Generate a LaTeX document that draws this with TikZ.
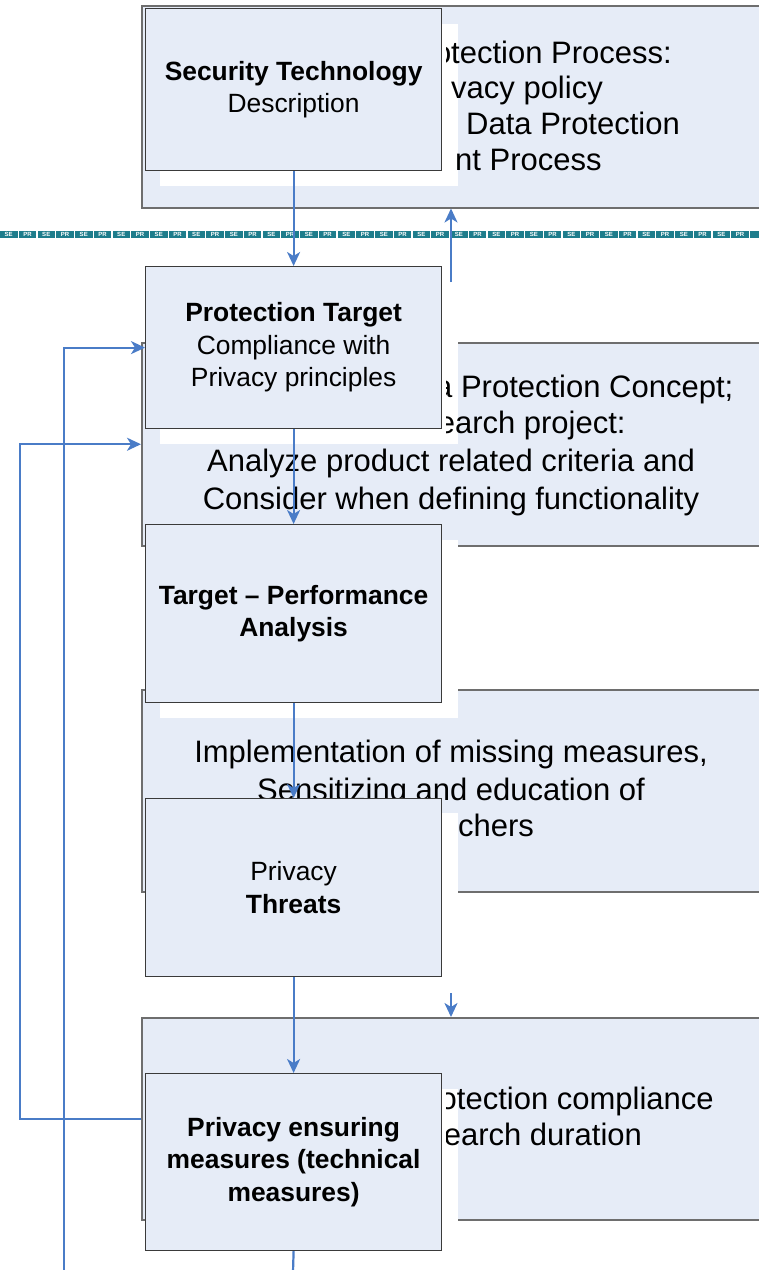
\documentclass[tikz,border=0pt]{standalone}
\usepackage{fontspec}
\setmainfont{Liberation Sans}
\newfontfamily\bigf{Liberation Sans}
\newfontfamily\smallf{Liberation Sans}
\usetikzlibrary{arrows.meta}
\definecolor{boxfill}{HTML}{E6ECF7}
\definecolor{bigline}{HTML}{6E6E6E}
\definecolor{smline}{HTML}{3A3A3A}
\definecolor{linkblue}{HTML}{4A7CC7}
\definecolor{sepr}{HTML}{1E7D8C}
\begin{document}
\begin{tikzpicture}[x=1pt,y=-1pt,
  bigbox/.style={draw=bigline, line width=1.5pt, fill=boxfill, minimum width=620pt, inner sep=0pt, anchor=north west},
  smallbox/.style={draw=smline, line width=1.2pt, fill=boxfill, minimum width=296pt, inner sep=0pt, align=center, anchor=north west, font=\smallf\fontsize{26.4}{32.5}\selectfont},
  shadowbox/.style={fill=white},
  bigtext/.style={font=\bigf\fontsize{31}{37}\selectfont, anchor=base, inner sep=0pt},
  fragtext/.style={font=\bigf\fontsize{31}{37}\selectfont, anchor=base west, inner sep=0pt},
  tile/.style={fill=sepr, text=white, font=\bfseries\fontsize{6}{6}\selectfont, inner sep=0pt, minimum width=17.5pt, minimum height=7pt},
  link/.style={draw=linkblue, line width=2.2pt},
  arr/.style={link, -{Stealth[length=14pt,width=13pt,inset=4pt]}}
]
\useasboundingbox (0,0) rectangle (759,1270);

% large background boxes
\node[bigbox, minimum height=202pt] (bigA) at (141,5) {};
\node[bigbox, minimum height=203pt] (bigB) at (141,342) {};
\node[bigbox, minimum height=202pt] (bigC) at (141,689) {};
\node[bigbox, minimum height=202pt] (bigD) at (141,1017) {};

% full lines of large box texts
\node[bigtext] (b3) at (451,471) {Analyze product related criteria and};
\node[bigtext] (b4) at (451,509) {Consider when defining functionality};
\node[bigtext] (c1) at (451,762) {Implementation of missing measures,};
\node[bigtext] (c2) at (451,800) {Sensitizing and education of};

% white shadows
\fill[shadowbox] (160,24) rectangle (458,186);
\fill[shadowbox] (160,282) rectangle (458,444);
\fill[shadowbox] (160,540) rectangle (458,718);
\fill[shadowbox] (160,813) rectangle (458,992);
\fill[shadowbox] (160,1089) rectangle (458,1266);

% small boxes
\node[smallbox, minimum height=162pt] (s1) at (145,8) {\textbf{Security Technology}\\Description};
\node[smallbox, minimum height=162pt] (s2) at (145,266) {\textbf{Protection Target}\\Compliance with\\Privacy principles};
\node[smallbox, minimum height=178pt] (s3) at (145,524) {\textbf{Target – Performance}\\\textbf{Analysis}};
\node[smallbox, minimum height=178pt] (s4) at (145,798) {Privacy\\\textbf{Threats}};
\node[smallbox, minimum height=177pt] (s5) at (145,1073) {\textbf{Privacy ensuring}\\\textbf{measures (technical}\\\textbf{measures)}};

% visible fragments of partly hidden lines
\begin{scope}
\clip (446,0) rectangle (780,1270);
\node[fragtext] (a1) at (433.8,63) {otection Process:};
\node[fragtext] (a2) at (451,98.5) {vacy policy};
\node[fragtext] (a3) at (466,134.5) {Data Protection};
\node[fragtext] (a4) at (455,170) {nt Process};
\node[fragtext] (b1) at (435,397.5) {a Protection Concept;};
\node[fragtext] (b2) at (437.6,433.5) {earch project:};
\node[fragtext] (c3) at (458,836) {chers};
\node[fragtext] (d1) at (439.5,1109) {otection compliance};
\node[fragtext] (d2) at (443.6,1145) {earch duration};
\end{scope}

% separator pattern
\foreach \i in {0,...,19} {
  \node[tile] (se\i) at (\i*37.5+8.75,234) {SE};
  \node[tile] (pr\i) at (\i*37.5+27.5,234) {PR};
}
\fill[sepr] (750,230.5) rectangle (759,237.5);

% connectors
\draw[arr] (s1.south) -- (s2.north);
\draw[arr] (s2.south) -- (s3.north);
\draw[arr] (s3.south) -- (s4.north);
\draw[arr] (s4.south) -- (s5.north);
\coordinate (bot1) at (293,1272);
\draw[link] (s5.south) -- (bot1);
\coordinate (up0) at (451,282);
\draw[arr] (up0) -- (up0 |- bigA.south);
\coordinate (dn0) at (451,993);
\draw[arr] (dn0) -- (dn0 |- bigD.north);
\coordinate (lx1) at (20,1118);
\draw[arr] (bigD.west) -- (bigD.west -| lx1) -- (bigB.west -| lx1) -- (bigB.west);
\coordinate (lx2) at (64,1272);
\draw[arr] (lx2) -- (lx2 |- s2.west) -- (s2.west);
\end{tikzpicture}
\end{document}
